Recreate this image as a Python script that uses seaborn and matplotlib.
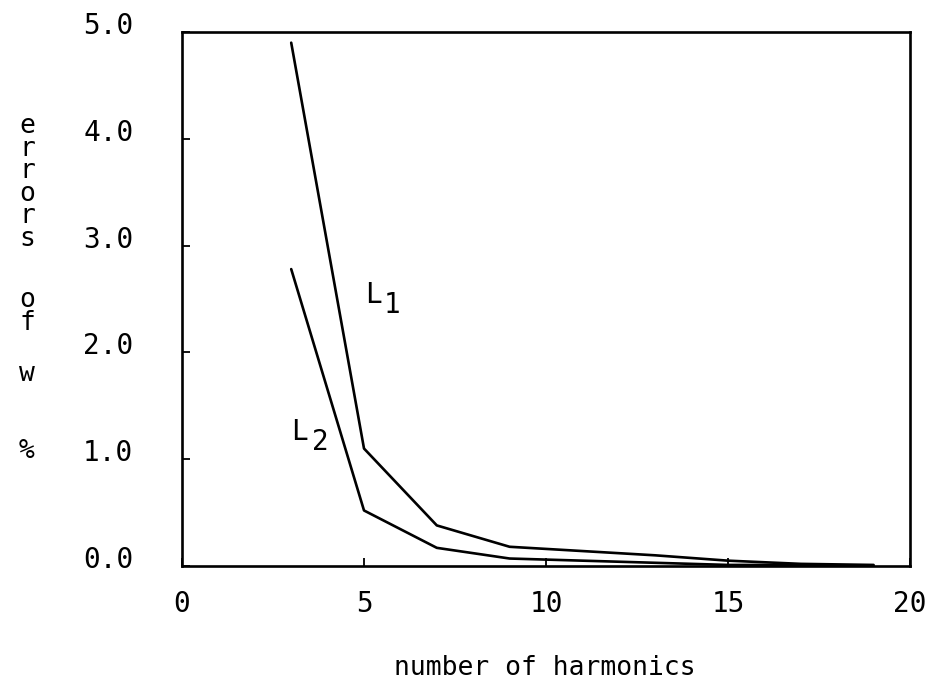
import matplotlib
matplotlib.use("Agg")
import matplotlib.pyplot as plt
import matplotlib.transforms as mtransforms
import seaborn as sns
import pandas as pd

harmonics = [3, 5, 7, 9, 11, 13, 15, 17, 19]
err_L1 = [4.9, 1.1, 0.38, 0.18, 0.14, 0.10, 0.05, 0.02, 0.01]
err_L2 = [2.78, 0.52, 0.17, 0.07, 0.05, 0.03, 0.01, 0.01, 0.0]
x_ticks = [0, 5, 10, 15, 20]
x_ticklabels = ["0", "5", "10", "15", "20"]
y_ticks = [0, 1, 2, 3, 4, 5]
y_ticklabels = ["0.0", "1.0", "2.0", "3.0", "4.0", "5.0"]
x_label = "number of harmonics"
y_label_words = ["errors", "of", "w", "%"]

df = pd.DataFrame({
    "n": harmonics * 2,
    "err": err_L1 + err_L2,
    "curve": ["L1"] * len(harmonics) + ["L2"] * len(harmonics),
})

sns.set_style("white")
FONT = "DejaVu Sans Mono"
plt.rcParams["font.family"] = [FONT, "DejaVu Sans"]
plt.rcParams["text.color"] = "black"
plt.rcParams["xtick.color"] = "black"
plt.rcParams["ytick.color"] = "black"
plt.rcParams["xtick.labelcolor"] = "black"
plt.rcParams["ytick.labelcolor"] = "black"

W, H = 936, 682
fig = plt.figure(figsize=(W / 100, H / 100), dpi=100)
ax = fig.add_axes([182 / W, (H - 566) / H, (910 - 182) / W, (566 - 32) / H])

sns.lineplot(data=df, x="n", y="err", units="curve", estimator=None,
             color="black", linewidth=1.9, ax=ax, legend=False)

ax.set_xlim(0, 20)
ax.set_ylim(0, 5)
ax.set_xticks(x_ticks)
ax.set_xticklabels(x_ticklabels, fontsize=20, color="black")
ax.set_yticks(y_ticks)
ax.set_yticklabels(y_ticklabels, fontsize=20, color="black")
ax.tick_params(axis="both", direction="in", length=6, width=1.3, color="black",
               bottom=True, left=True, top=False, right=False)
ax.tick_params(axis="x", pad=17)
ax.tick_params(axis="y", pad=35)
for lab in ax.get_yticklabels():
    lab.set_transform(lab.get_transform() +
                      mtransforms.ScaledTranslation(0, 9 / 100, fig.dpi_scale_trans))
for sp in ax.spines.values():
    sp.set_visible(True)
    sp.set_color("black")
    sp.set_linewidth(1.9)

ax.set_xlabel("")
ax.set_ylabel("")


def ftext(xpx, ypx, s, **kw):
    fig.text(xpx / W, 1 - ypx / H, s, color="black", **kw)


# curve labels (left edge px, baseline px)
ftext(365, 303, "L", fontsize=20, ha="left", va="baseline")
ftext(384, 313, "1", fontsize=20, ha="left", va="baseline")
ftext(291, 440, "L", fontsize=20, ha="left", va="baseline")
ftext(312, 450, "2", fontsize=20, ha="left", va="baseline")

# x label
ftext(545, 675, x_label, fontsize=19, ha="center", va="baseline")

# stacked y label: each word written vertically, last-line baseline in px
word_baselines = [246, 330, 381, 458]
for word, yb in zip(y_label_words, word_baselines):
    ftext(27, yb, "\n".join(word), fontsize=19, ha="center", va="baseline",
          linespacing=0.83, multialignment="center")

fig.savefig("out.png", dpi=100)
